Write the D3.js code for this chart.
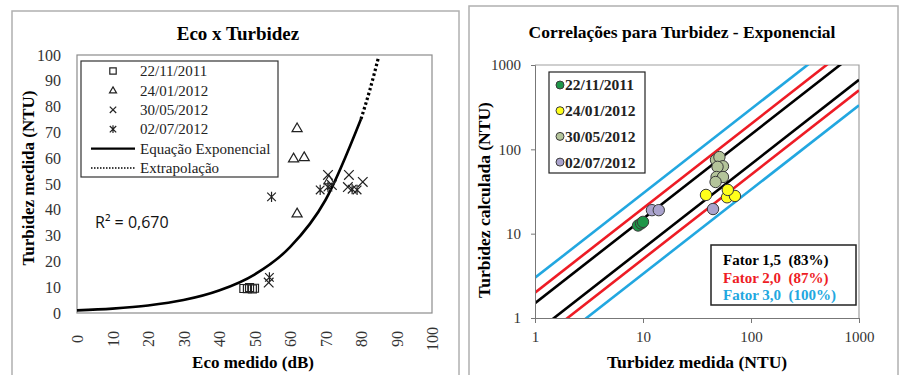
<!DOCTYPE html>
<html>
<head>
<meta charset="utf-8">
<script src="https://cdn.jsdelivr.net/npm/d3@7"></script>
<style>
  body { margin: 0; background: #fff; }
  svg { display: block; }
  text { font-family: "Liberation Serif", "Times New Roman", serif; }
</style>
</head>
<body>
<script>
// ---- data: left chart (Eco x Turbidez) ----
const ecoTicks = [0, 10, 20, 30, 40, 50, 60, 70, 80, 90, 100];
const turbTicks = [0, 10, 20, 30, 40, 50, 60, 70, 80, 90, 100];

const eco221111 = [[47, 9.5], [48, 9.4], [48.6, 9.8], [49.4, 9.3], [50, 9.6]];
const eco240112 = [[62, 71.7], [61, 60], [64, 60.5], [62, 38.7], [71, 51.5]];
const eco300512 = [[54, 11.8], [70.7, 53.5], [71.8, 49.6], [76.6, 53.5], [80.5, 50.8], [76.3, 48.8]];
const eco020712 = [[54.8, 45], [54.2, 13.8], [68.5, 47.7], [70.7, 48.8], [77.5, 48], [78.9, 47.7]];

const expCurve = [[0, 1], [10, 1.7], [20, 2.9], [30, 5], [40, 8.7], [50, 14.9], [60, 25.5], [70, 43.8], [80, 75.2]];
const extrapCurve = [[80, 75.2], [82.5, 86.5], [85, 99.5]];

const leftLegend = ["22/11/2011", "24/01/2012", "30/05/2012", "02/07/2012", "Equação Exponencial", "Extrapolação"];

// ---- data: right chart (Correlações) ----
const logTicks = [1, 10, 100, 1000];
const corrSeries = ["22/11/2011", "24/01/2012", "30/05/2012", "02/07/2012"];
const corrColors = ["#1e9648", "#ffff1a", "#b4c49a", "#aaa3cd"];
const corr221111 = [[9, 12.5], [9.6, 13.2], [10, 13.8]];
const corr240112 = [[38.3, 28.8], [60, 27], [71, 28], [61, 33]];
const corr300512 = [[47.4, 75], [51, 81], [55, 63], [49, 62], [48, 47], [55, 47], [47, 41]];
const corr020712 = [[12.1, 19], [14, 19], [44.5, 19.6]];
const factors = [1.5, 2, 3];
const factorColors = ["#000000", "#ee1c25", "#22a7e0"];
const factorLabels = ["Fator 1,5  (83%)", "Fator 2,0  (87%)", "Fator 3,0  (100%)"];

let svg = null;
let xL, yL, xR, yR;

appendSvg("body");
drawFrames();
setupLeftScales();
drawLeftChart();
setupRightScales();
drawRightChart();

function appendSvg(domElement) {
  svg = d3.select(domElement).append("svg")
    .attr("width", 902)
    .attr("height", 375);
}

function drawFrames() {
  svg.append("rect").attr("x", 12).attr("y", 11).attr("width", 447).attr("height", 380)
    .attr("fill", "none").attr("stroke", "#b0b0b0").attr("stroke-width", 1.5);
  svg.append("rect").attr("x", 469).attr("y", 6).attr("width", 429).attr("height", 380)
    .attr("fill", "none").attr("stroke", "#b0b0b0").attr("stroke-width", 1.5);
}

function setupLeftScales() {
  xL = d3.scaleLinear().domain([0, 100]).range([77, 432]);
  yL = d3.scaleLinear().domain([0, 100]).range([313, 55]);
}

function markerPath(type, s) {
  if (type === "square") return `M${-s},${-s}H${s}V${s}H${-s}Z`;
  if (type === "triangle") return `M0,${-s * 1.1}L${s * 1.1},${s * 0.8}L${-s * 1.1},${s * 0.8}Z`;
  if (type === "x") return `M${-s},${-s}L${s},${s}M${-s},${s}L${s},${-s}`;
  // star: x with a vertical bar
  return `M${-s},${-s}L${s},${s}M${-s},${s}L${s},${-s}M0,${-s * 1.2}V${s * 1.2}`;
}

function drawLeftChart() {
  const g = svg.append("g");

  // plot area border
  g.append("rect").attr("x", xL(0)).attr("y", yL(100))
    .attr("width", xL(100) - xL(0)).attr("height", yL(0) - yL(100))
    .attr("fill", "none").attr("stroke", "#8c8c8c").attr("stroke-width", 1.2);

  // title
  g.append("text").attr("x", 238).attr("y", 40).attr("text-anchor", "middle")
    .style("font-size", "19px").style("font-weight", "bold").text("Eco x Turbidez");

  // y axis
  const yAxis = g.append("g").attr("transform", `translate(${xL(0)},0)`)
    .call(d3.axisLeft(yL).tickValues(turbTicks).tickSize(0).tickPadding(16));
  yAxis.select(".domain").remove();
  yAxis.selectAll("text").style("font-size", "16px").attr("fill", "#333")
    .style("font-family", "Liberation Serif");

  // x axis, rotated labels
  const xAxis = g.append("g").attr("transform", `translate(0,${yL(0)})`)
    .call(d3.axisBottom(xL).tickValues(ecoTicks).tickSize(0));
  xAxis.select(".domain").remove();
  xAxis.selectAll("text")
    .attr("transform", "translate(0,26) rotate(-90)")
    .attr("x", 0).attr("y", 0).attr("dy", "0.35em")
    .attr("text-anchor", "middle")
    .style("font-size", "16px").attr("fill", "#333")
    .style("font-family", "Liberation Serif");

  // axis titles
  g.append("text").attr("x", 253).attr("y", 368).attr("text-anchor", "middle")
    .style("font-size", "17px").style("font-weight", "bold").text("Eco medido (dB)");
  g.append("text").attr("transform", "translate(34,178) rotate(-90)").attr("text-anchor", "middle")
    .style("font-size", "17px").style("font-weight", "bold").text("Turbidez medida (NTU)");

  // curves
  const line = d3.line().x(d => xL(d[0])).y(d => yL(d[1])).curve(d3.curveMonotoneX);
  g.append("path").datum(expCurve).attr("d", line)
    .attr("fill", "none").attr("stroke", "#000").attr("stroke-width", 2.6);
  g.append("path").datum(extrapCurve).attr("d", line)
    .attr("fill", "none").attr("stroke", "#000").attr("stroke-width", 3.2)
    .attr("stroke-dasharray", "2.5,2.5");

  // markers
  const sets = [
    { data: eco221111, type: "square", s: 4 },
    { data: eco240112, type: "triangle", s: 4.6 },
    { data: eco300512, type: "x", s: 4.8 },
    { data: eco020712, type: "star", s: 4.3 }
  ];
  sets.forEach(set => {
    g.selectAll(null).data(set.data).enter().append("path")
      .attr("transform", d => `translate(${xL(d[0])},${yL(d[1])})`)
      .attr("d", markerPath(set.type, set.s))
      .attr("fill", "none").attr("stroke", "#222").attr("stroke-width", 1.2);
  });

  // legend
  const lg = g.append("g");
  lg.append("rect").attr("x", 81).attr("y", 61).attr("width", 197).attr("height", 116)
    .attr("fill", "#fff").attr("stroke", "#333").attr("stroke-width", 1.2);
  const types = ["square", "triangle", "x", "star"];
  leftLegend.forEach((label, i) => {
    const yy = 71 + i * 19.4;
    if (i < 4) {
      lg.append("path").attr("transform", `translate(113,${yy})`)
        .attr("d", markerPath(types[i], 3.2))
        .attr("fill", "none").attr("stroke", "#222").attr("stroke-width", 1.2);
    } else {
      lg.append("line").attr("x1", 91).attr("x2", 135).attr("y1", yy).attr("y2", yy)
        .attr("stroke", "#000").attr("stroke-width", i === 4 ? 2.2 : 1.4)
        .attr("stroke-dasharray", i === 4 ? null : "1.5,1.5");
    }
    lg.append("text").attr("x", 140).attr("y", yy).attr("dy", "0.35em")
      .style("font-size", "15px").attr("fill", "#222").text(label);
  });

  // R2
  g.append("text").attr("x", 95).attr("y", 228)
    .style("font-family", "'Open Sans', 'Liberation Sans', sans-serif")
    .style("font-size", "16px").attr("fill", "#111").text("R² = 0,670");
}

function setupRightScales() {
  xR = d3.scaleLog().domain([1, 1000]).range([535, 859]);
  yR = d3.scaleLog().domain([1, 1000]).range([318, 65]);
}

function drawRightChart() {
  const g = svg.append("g");

  // title
  g.append("text").attr("x", 682).attr("y", 38).attr("text-anchor", "middle")
    .style("font-size", "17.5px").style("font-weight", "bold").text("Correlações para Turbidez - Exponencial");

  // plot border (top and right)
  g.append("path")
    .attr("d", `M${xR(1)},${yR(1000)}H${xR(1000)}V${yR(1)}`)
    .attr("fill", "none").attr("stroke", "#a0a0a0").attr("stroke-width", 1.2);

  // clip for factor lines
  svg.append("clipPath").attr("id", "plotClip").append("rect")
    .attr("x", xR(1)).attr("y", yR(1000))
    .attr("width", xR(1000) - xR(1)).attr("height", yR(1) - yR(1000));

  const lines = g.append("g").attr("clip-path", "url(#plotClip)");
  const lineGen = d3.line().x(d => xR(d[0])).y(d => yR(d[1]));
  factors.forEach((f, i) => {
    [f, 1 / f].forEach(k => {
      lines.append("path").datum([[1, k], [1000, 1000 * k]]).attr("d", lineGen)
        .attr("fill", "none").attr("stroke", factorColors[i]).attr("stroke-width", 2.6);
    });
  });

  // axes
  const yAxis = g.append("g").attr("transform", `translate(${xR(1)},0)`)
    .call(d3.axisLeft(yR).tickValues(logTicks).tickFormat(d3.format("d")).tickSize(4).tickPadding(10));
  yAxis.select(".domain").attr("stroke", "#777");
  yAxis.selectAll(".tick line").attr("stroke", "#777");
  yAxis.selectAll("text").style("font-size", "15px").attr("fill", "#333")
    .style("font-family", "Liberation Serif");

  const xAxis = g.append("g").attr("transform", `translate(0,${yR(1)})`)
    .call(d3.axisBottom(xR).tickValues(logTicks).tickFormat(d3.format("d")).tickSize(5).tickPadding(8));
  xAxis.select(".domain").attr("stroke", "#777");
  xAxis.selectAll(".tick line").attr("stroke", "#777");
  xAxis.selectAll("text").style("font-size", "15px").attr("fill", "#333")
    .style("font-family", "Liberation Serif");

  // axis titles
  g.append("text").attr("x", 697).attr("y", 368).attr("text-anchor", "middle")
    .style("font-size", "17.5px").style("font-weight", "bold").text("Turbidez medida (NTU)");
  g.append("text").attr("transform", "translate(490,200) rotate(-90)").attr("text-anchor", "middle")
    .style("font-size", "17.5px").style("font-weight", "bold").text("Turbidez calculada (NTU)");

  // points
  const sets = [corr221111, corr240112, corr300512, corr020712];
  sets.forEach((data, i) => {
    g.selectAll(null).data(data).enter().append("circle")
      .attr("cx", d => xR(d[0])).attr("cy", d => yR(d[1])).attr("r", 5.7)
      .attr("fill", corrColors[i]).attr("stroke", "#3a3a3a").attr("stroke-width", 1);
  });

  // series legend
  const lg = g.append("g");
  lg.append("rect").attr("x", 549).attr("y", 72).attr("width", 96).attr("height", 101)
    .attr("fill", "#fff").attr("stroke", "#222").attr("stroke-width", 1.2);
  corrSeries.forEach((label, i) => {
    const yy = 85 + i * 25.7;
    lg.append("circle").attr("cx", 560).attr("cy", yy).attr("r", 4)
      .attr("fill", corrColors[i]).attr("stroke", "#3a3a3a").attr("stroke-width", 1);
    lg.append("text").attr("x", 565).attr("y", yy).attr("dy", "0.35em")
      .style("font-size", "15.5px").style("font-weight", "bold").attr("fill", "#222").text(label);
  });

  // factor legend
  const fg = g.append("g");
  fg.append("rect").attr("x", 711).attr("y", 245).attr("width", 145).attr("height", 60)
    .attr("fill", "#fff").attr("stroke", "#222").attr("stroke-width", 1.5);
  factorLabels.forEach((label, i) => {
    fg.append("text").attr("x", 723).attr("y", 260 + i * 17.5).attr("dy", "0.35em")
      .style("font-size", "15px").style("font-weight", "bold").style("white-space", "pre")
      .attr("fill", factorColors[i]).text(label);
  });
}
</script>
</body>
</html>
